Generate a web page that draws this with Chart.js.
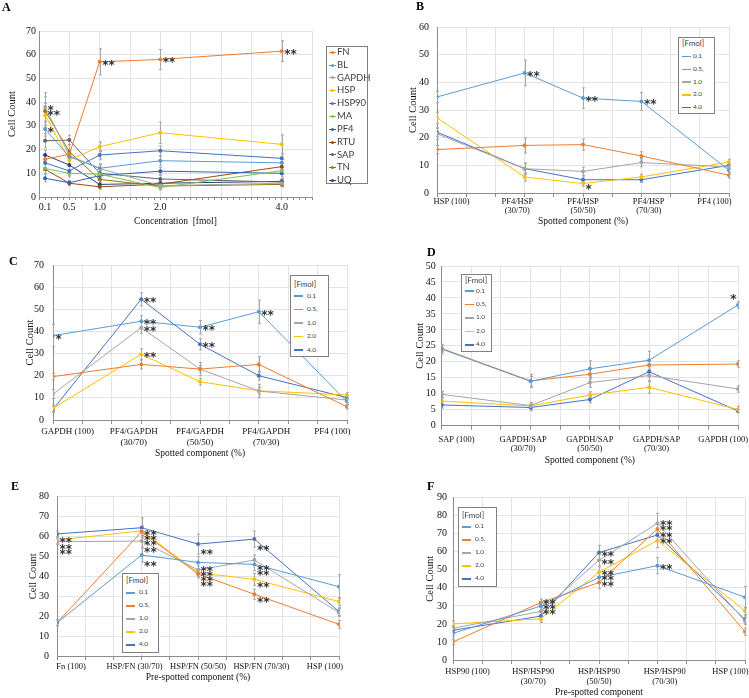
<!DOCTYPE html>
<html>
<head>
<meta charset="utf-8">
<script src="https://cdn.jsdelivr.net/npm/chart.js@4.4.1/dist/chart.umd.min.js"></script>
<style>
  html, body { margin: 0; padding: 0; background: #fff; }
  body { position: relative; width: 749px; height: 698px; overflow: hidden; }
  canvas { position: absolute; }
  .letter { position: absolute; font: bold 12px "Liberation Serif", serif; color: #000; line-height: 1; }
  .legend { position: absolute; box-sizing: border-box; border: 1px solid #808080; background: #fff;
            font-family: Lato, "Liberation Sans", sans-serif; color: #404040; }
  .legend div, .legend span { position: absolute; white-space: nowrap; line-height: 1; }
</style>
</head>
<body>
<script>
// ---------- panel A : cell count vs concentration ----------
const concA = [0.1, 0.5, 1.0, 2.0, 4.0];
const concLabelsA = ['0.1', '0.5', '1.0', '2.0', '4.0'];
const namesA = ['FN', 'BL', 'GAPDH', 'HSP', 'HSP90', 'MA', 'PF4', 'RTU', 'SAP', 'TN', 'UQ'];
const countFN    = [15.9, 18.0, 57.0, 58.0, 61.5];
const countBL    = [28.7, 17.0, 12.1, 15.3, 14.4];
const countGAPDH = [38.0, 17.5, 12.0, 4.8, 5.8];
const countHSP   = [34.5, 15.6, 21.2, 27.1, 22.2];
const countHSP90 = [14.4, 11.0, 17.7, 19.5, 16.3];
const countMA    = [12.0, 10.0, 9.6, 4.0, 11.1];
const countPF4   = [7.9, 6.0, 9.0, 10.9, 10.0];
const countRTU   = [11.7, 5.8, 4.3, 5.4, 12.8];
const countSAP   = [23.7, 24.0, 10.0, 7.6, 6.3];
const countTN    = [36.3, 19.1, 7.4, 4.6, 5.3];
const countUQ    = [17.7, 13.5, 5.3, 5.8, 6.6];
const errA = [
  [2, 2, 5.5, 4.2, 4.4], [3, 2, 1.5, 2, 1.5], [6, 2, 2, 1.5, 1.5], [5, 2, 2, 4.5, 4],
  [2, 2, 2, 2, 2], [2, 1.5, 1.5, 1, 1.5], [1.5, 1, 1.5, 1.5, 1.5], [2, 1, 1, 1, 1.5],
  [3, 2, 2, 1.5, 1.5], [6, 3, 1.5, 1, 1], [2, 2, 1, 1, 1]
];
const starsA = [[0.1, 38.1, '*'], [0.1, 35.8, '**'], [0.1, 28.6, '*'],
                [1.0, 57.0, '**'], [2.0, 58.0, '**'], [4.0, 61.5, '**']];

// ---------- panels B-F : mixtures, one line per amount ----------
const fmolNames = ['0.1', '0.5,', '1.0', '2.0', '4.0'];
const mixPct = [0, 30, 50, 70, 100];

const catsB = [['HSP (100)'], ['PF4/HSP', '(30/70)'], ['PF4/HSP', '(50/50)'], ['PF4/HSP', '(70/30)'], ['PF4 (100)']];
const bF01 = [34.7, 43.4, 34.3, 33.1, 8.2];
const bF05 = [15.7, 17.2, 17.5, 13.4, 6.4];
const bF10 = [21.4, 8.8, 7.8, 11.0, 9.4];
const bF20 = [27.2, 5.8, 3.4, 5.8, 11.2];
const bF40 = [22.0, 8.8, 4.8, 4.8, 10.0];
const errB = [[2, 4.6, 3.7, 3.2, 1.5], [1.5, 2.8, 2, 1.5, 1], [2, 2, 1.5, 1.5, 1], [2, 1.5, 1, 1, 1], [1.5, 2, 1, 1, 1]];
const starsB = [[30, 43.4, '**'], [50, 34.3, '**'], [70, 33.1, '**'], [50, 2.4, '*']];

const catsC = [['GAPDH (100)'], ['PF4/GAPDH', '(30/70)'], ['PF4/GAPDH', '(50/50)'], ['PF4/GAPDH', '(70/30)'], ['PF4 (100)']];
const cF01 = [38.1, 44.6, 41.9, 48.9, 8.3];
const cF05 = [19.6, 25.1, 23.0, 25.1, 6.0];
const cF10 = [11.7, 41.7, 23.0, 13.1, 9.0];
const cF20 = [5.3, 29.7, 17.3, 13.2, 11.3];
const cF40 = [4.8, 54.5, 34.2, 20.0, 10.1];
const errC = [[5, 2.5, 3, 5.3, 1.5], [1.5, 2, 1.5, 3.5, 1], [2, 2.5, 3, 3, 1], [1.5, 2.5, 1.5, 1.5, 1], [1.5, 3, 2.5, 2, 1]];
const starsC = [[0, 38.1, '*'], [30, 54.5, '**'], [30, 44.6, '**'], [30, 41.7, '**'], [30, 29.7, '**'],
                [50, 41.9, '**'], [50, 34.2, '**'], [70, 48.9, '**']];

const catsD = [['SAP (100)'], ['GAPDH/SAP', '(30/70)'], ['GAPDH/SAP', '(50/50)'], ['GAPDH/SAP', '(70/30)'], ['GAPDH (100)']];
const dF01 = [24.0, 13.9, 17.8, 20.5, 37.8];
const dF05 = [24.2, 14.0, 16.1, 19.0, 19.3];
const dF10 = [9.8, 6.3, 13.5, 15.7, 11.5];
const dF20 = [7.7, 6.2, 9.6, 12.0, 5.1];
const dF40 = [6.5, 5.7, 8.2, 16.9, 4.6];
const errD = [[1.5, 1.5, 2.5, 2.8, 1], [1, 2, 1.5, 1.5, 1], [1, 1, 1.5, 1.5, 1], [1, 1, 1, 1.8, 1], [1, 1, 1, 1.5, 0.5]];
const starsD = [[96.5, 40.5, '*']];

const catsE = ['Fn (100)', 'HSP/FN (30/70)', 'HSP/FN (50/50)', 'HSP/FN (70/30)', 'HSP (100)'];
const eF01 = [16.7, 50.7, 47.0, 46.0, 34.8];
const eF05 = [16.7, 62.4, 41.2, 31.0, 15.9];
const eF10 = [57.4, 57.7, 43.2, 48.2, 21.8];
const eF20 = [58.2, 62.9, 41.8, 38.5, 27.3];
const eF40 = [61.3, 64.4, 56.2, 58.7, 22.3];
const errE = [[1.5, 3.5, 3, 3, 6], [1.5, 2, 2, 2.5, 2], [1.5, 3, 2, 2.5, 2], [1.5, 2.5, 2, 3, 2], [1.5, 5, 5, 4, 2]];
const starsE = [[0, 58.7, '**'], [0, 55.3, '**'], [0, 52.5, '**'],
                [30, 62.4, '**'], [30, 59.9, '**'], [30, 57.4, '**'], [30, 53.7, '**'], [30, 46.5, '**'],
                [50, 52.7, '**'], [50, 44.0, '**'], [50, 41.5, '**'], [50, 39.2, '**'], [50, 36.8, '**'],
                [70, 54.9, '**'], [70, 44.9, '**'], [70, 42.3, '**'], [70, 36.2, '**'], [70, 28.5, '**']];

const catsF = [['HSP90 (100)'], ['HSP/HSP90', '(30/70)'], ['HSP/HSP90', '(50/50)'], ['HSP/HSP90', '(70/30)'], ['HSP (100)']];
const fF01 = [14.8, 29.9, 45.8, 52.3, 34.8];
const fF05 = [10.0, 31.8, 43.0, 72.6, 15.7];
const fF10 = [17.6, 26.9, 55.3, 75.8, 21.6];
const fF20 = [20.0, 22.8, 48.6, 66.3, 27.2];
const fF40 = [16.5, 24.3, 59.6, 69.3, 22.5];
const errF = [[1.5, 2, 3, 4.5, 6], [1.5, 2, 3.5, 3, 2], [1.5, 2, 3, 5.5, 2], [1.5, 2, 3, 4, 2], [1.5, 2, 4, 3, 2]];
const starsF = [[30, 32.7, '**'], [30, 29.9, '**'], [30, 27.1, '**'],
                [50, 59.5, '**'], [50, 55.1, '**'], [50, 48.6, '**'], [50, 45.8, '**'], [50, 42.6, '**'],
                [70, 76.7, '**'], [70, 73.5, '**'], [70, 70.1, '**'], [70, 66.7, '**'], [70, 52.3, '**']];

// ---------- styling ----------
const colorsA = ['#ED7D31', '#5B9BD5', '#A5A5A5', '#FFC000', '#4472C4', '#7BC450',
                 '#2F64B0', '#9E480E', '#636363', '#997300', '#264478'];
const fmolColors = ['#5B9BD5', '#ED7D31', '#A5A5A5', '#FFC000', '#4472C4'];
const SERIF = '"Liberation Serif", "Times New Roman", serif';
const GRID = '#e3e3e3';
const AXIS = '#8c8c8c';

function errorBars() {
  return {
    id: 'errbars',
    beforeDatasetsDraw(chart) {
      const { ctx, scales: { x, y } } = chart;
      ctx.save();
      ctx.strokeStyle = '#a6a6a6';
      ctx.lineWidth = 1;
      chart.data.datasets.forEach(ds => {
        ds.data.forEach((pt, i) => {
          const e = ds.errors[i];
          if (!e) return;
          const px = Math.round(x.getPixelForValue(pt.x)) + 0.5;
          const y1 = y.getPixelForValue(pt.y + e);
          const y2 = y.getPixelForValue(pt.y - e);
          ctx.beginPath();
          ctx.moveTo(px, y1); ctx.lineTo(px, y2);
          ctx.moveTo(px - 1.5, y1); ctx.lineTo(px + 1.5, y1);
          ctx.moveTo(px - 1.5, y2); ctx.lineTo(px + 1.5, y2);
          ctx.stroke();
        });
      });
      ctx.restore();
    }
  };
}

function stars(items) {
  return {
    id: 'stars',
    afterDatasetsDraw(chart) {
      const { ctx, scales: { x, y } } = chart;
      ctx.save();
      ctx.font = 'bold 12px "DejaVu Sans", sans-serif';
      ctx.fillStyle = '#333';
      ctx.textAlign = 'left';
      ctx.textBaseline = 'alphabetic';
      items.forEach(([xv, yv, txt]) => {
        ctx.fillText(txt, x.getPixelForValue(xv) + 2.5, y.getPixelForValue(yv) + 7);
      });
      ctx.restore();
    }
  };
}

function makeDatasets(xs, series, names, colors, errs) {
  return series.map((vals, k) => ({
    label: names[k],
    data: vals.map((v, i) => ({ x: xs[i], y: v })),
    borderColor: colors[k],
    backgroundColor: colors[k],
    borderWidth: 1,
    pointRadius: 2,
    pointBorderWidth: 0,
    tension: 0,
    errors: errs[k]
  }));
}

function yScale(p, yW) {
  return {
    min: 0, max: p.yMax,
    ticks: { stepSize: p.yStep, color: '#111', padding: p.yPad, font: { family: SERIF, size: 10 } },
    grid: { color: GRID, drawTicks: false },
    border: { color: AXIS },
    title: { display: true, text: 'Cell Count', color: '#111', padding: 0,
             font: { family: SERIF, size: 10.5, lineHeight: 1.2 } },
    afterFit: s => { s.width = yW; }
  };
}

function addLetter(ch, x, y) {
  const d = document.createElement('div');
  d.className = 'letter';
  d.textContent = ch;
  d.style.left = x + 'px';
  d.style.top = y + 'px';
  document.body.appendChild(d);
}

function addLegend(lg, names, colors, withDot) {
  const el = document.createElement('div');
  el.className = 'legend';
  el.style.cssText += `left:${lg.x}px;top:${lg.y}px;width:${lg.w}px;height:${lg.h}px;`;
  if (lg.title) {
    const t = document.createElement('div');
    t.textContent = lg.title;
    t.style.cssText = `left:${lg.lineX}px;top:${lg.titleY - lg.titleSize * 0.55}px;font-size:${lg.titleSize}px;`;
    el.appendChild(t);
  }
  names.forEach((n, i) => {
    const cy = lg.firstY + i * lg.step;
    const line = document.createElement('span');
    line.style.cssText = `left:${lg.lineX}px;top:${cy - lg.lineW / 2}px;width:${lg.lineLen}px;height:${lg.lineW}px;background:${colors[i]};`;
    el.appendChild(line);
    if (withDot) {
      const dot = document.createElement('span');
      dot.style.cssText = `left:${lg.lineX + lg.lineLen / 2 - 1.5}px;top:${cy - 1.5}px;width:3px;height:3px;border-radius:50%;background:${colors[i]};`;
      el.appendChild(dot);
    }
    const t = document.createElement('span');
    t.textContent = n;
    t.style.cssText = `left:${lg.textX}px;top:${cy - lg.size * 0.55}px;font-size:${lg.size}px;`;
    el.appendChild(t);
  });
  document.body.appendChild(el);
}

function makeCanvas(left, top, w, h) {
  const cv = document.createElement('canvas');
  cv.width = w; cv.height = h;
  cv.style.left = left + 'px';
  cv.style.top = top + 'px';
  cv.style.width = w + 'px';
  cv.style.height = h + 'px';
  document.body.appendChild(cv);
  return cv;
}

// ---------- panel A ----------
(function () {
  const cl = 0, ct = 0, cw = 375;
  const plot = { l: 39, t: 31, r: 312, b: 197 };
  const xTitleY = 221;
  const ch = Math.round(xTitleY + 5.7 - ct);
  const padL = 12 - cl - 6.3;
  const cv = makeCanvas(cl, ct, cw, ch);
  const series = [countFN, countBL, countGAPDH, countHSP, countHSP90, countMA, countPF4, countRTU, countSAP, countTN, countUQ];
  new Chart(cv, {
    type: 'line',
    data: { datasets: makeDatasets(concA, series, namesA, colorsA, errA) },
    options: {
      responsive: false, animation: false, devicePixelRatio: 1,
      layout: { padding: { left: padL, top: plot.t - ct, right: cl + cw - plot.r, bottom: 0 } },
      plugins: { legend: { display: false }, tooltip: { enabled: false } },
      scales: {
        x: {
          type: 'linear', min: 0, max: 4.5,
          afterBuildTicks: s => {
            const t = [];
            for (let i = 0; i <= 45; i++) t.push({ value: i / 10 });
            s.ticks = t;
          },
          ticks: {
            autoSkip: false, maxRotation: 0, padding: 1, color: '#111',
            font: { family: SERIF, size: 10 },
            callback: v => {
              const k = concA.findIndex(c => Math.abs(c - v) < 1e-6);
              return k >= 0 ? concLabelsA[k] : '';
            }
          },
          grid: {
            color: c => (Math.round(c.tick.value * 10) % 5 === 0 ? GRID : 'rgba(0,0,0,0)'),
            tickColor: AXIS, tickLength: 3
          },
          border: { color: AXIS },
          title: { display: true, text: 'Concentration  [fmol]', color: '#111', padding: 0,
                   font: { family: SERIF, size: 9.5, lineHeight: 1.2 } },
          afterFit: s => { s.height = ct + ch - plot.b; s.paddingLeft = 0; s.paddingRight = 0; }
        },
        y: yScale({ yMax: 70, yStep: 10, yPad: 3 }, plot.l - cl - padL)
      }
    },
    plugins: [errorBars(), stars(starsA)]
  });
  addLetter('A', 2, 1);
  addLegend({ x: 326, y: 46, w: 42, h: 138, firstY: 5.2, step: 12.83, lineX: 2, lineLen: 7,
              lineW: 1, textX: 10, size: 9.5 }, namesA, colorsA, true);
})();

// ---------- panels B-F ----------
function mixPanel(p) {
  const [cl, ct, cw] = p.box;
  const ch = Math.round(p.xTitleY + 5.7 - ct);
  const padL = p.yTitleX - cl - 6.3;
  const cv = makeCanvas(cl, ct, cw, ch);
  const gridH = 4;
  const labelPos = [5, 27.5, 50, 72.5, 95];
  new Chart(cv, {
    type: 'line',
    data: { datasets: makeDatasets(mixPct, p.series, fmolNames, fmolColors, p.errs) },
    options: {
      responsive: false, animation: false, devicePixelRatio: 1,
      layout: { padding: { left: padL, top: p.plot.t - ct, right: cl + cw - p.plot.r, bottom: 0 } },
      plugins: { legend: { display: false }, tooltip: { enabled: false } },
      scales: {
        x: {
          type: 'linear', min: 0, max: 100, weight: 0,
          ticks: { display: false, stepSize: 10 },
          grid: { color: GRID, tickColor: AXIS, tickLength: gridH },
          border: { color: AXIS },
          afterFit: s => { s.height = gridH; s.paddingLeft = 0; s.paddingRight = 0; }
        },
        xl: {
          type: 'linear', position: 'bottom', min: 0, max: 100, weight: 1,
          afterBuildTicks: s => { s.ticks = labelPos.map(v => ({ value: v })); },
          ticks: {
            autoSkip: false, maxRotation: 0, color: '#111',
            padding: p.labelY - (p.plot.b + gridH) - p.labelSize * 0.6,
            font: { family: SERIF, size: p.labelSize, lineHeight: p.labelLH },
            callback: (v, i) => p.cats[i]
          },
          grid: { display: false, drawTicks: false },
          border: { display: false },
          title: { display: true, text: p.xTitle, color: '#111', padding: 0,
                   font: { family: SERIF, size: 9.5, lineHeight: 1.2 } },
          afterFit: s => { s.height = ct + ch - p.plot.b - gridH; s.paddingLeft = 0; s.paddingRight = 0; }
        },
        y: yScale(p, p.plot.l - cl - padL)
      }
    },
    plugins: [errorBars(), stars(p.stars)]
  });
  addLetter(p.letter, p.letterXY[0], p.letterXY[1]);
  addLegend(Object.assign({ title: '[Fmol]', titleSize: 8, lineX: 3, lineLen: 9, lineW: 1.5, size: 6.5 }, p.legend),
            fmolNames, fmolColors, false);
}

mixPanel({
  letter: 'B', letterXY: [416, 0], box: [375, 0, 374],
  plot: { l: 437, t: 27, r: 729, b: 193 }, yTitleX: 413, yMax: 60, yStep: 10, yPad: 8,
  cats: catsB, labelY: 201.7, labelSize: 8.5, labelLH: 1.1, xTitle: 'Spotted component (%)', xTitleY: 221.7,
  series: [bF01, bF05, bF10, bF20, bF40], errs: errB, stars: starsB,
  legend: { x: 678, y: 37, w: 37, h: 77, titleY: 5.5, firstY: 18.5, step: 12.8, textX: 14 }
});
mixPanel({
  letter: 'C', letterXY: [9, 255], box: [0, 250, 375],
  plot: { l: 53, t: 265, r: 347, b: 420 }, yTitleX: 30, yMax: 70, yStep: 10, yPad: 9,
  cats: catsC, labelY: 431.7, labelSize: 9, labelLH: 1.2, xTitle: 'Spotted component (%)', xTitleY: 453.3,
  series: [cF01, cF05, cF10, cF20, cF40], errs: errC, stars: starsC,
  legend: { x: 290, y: 275, w: 39, h: 82, titleY: 8.5, firstY: 20.2, step: 13.5, textX: 16 }
});
mixPanel({
  letter: 'D', letterXY: [427, 246], box: [375, 250, 374],
  plot: { l: 441.7, t: 266, r: 738, b: 425.7 }, yTitleX: 420, yMax: 50, yStep: 5, yPad: 6,
  cats: catsD, labelY: 440, labelSize: 8.5, labelLH: 1.1, xTitle: 'Spotted component (%)', xTitleY: 460.7,
  series: [dF01, dF05, dF10, dF20, dF40], errs: errD, stars: starsD,
  legend: { x: 461, y: 274, w: 31, h: 78, titleY: 5, firstY: 16.2, step: 13.4, textX: 14 }
});
mixPanel({
  letter: 'E', letterXY: [11, 480], box: [0, 480, 375],
  plot: { l: 57, t: 496.7, r: 339, b: 656 }, yTitleX: 33, yMax: 80, yStep: 10, yPad: 8,
  cats: catsE, labelY: 667.3, labelSize: 8.5, labelLH: 1.1, xTitle: 'Pre-spotted component (%)', xTitleY: 677.3,
  series: [eF01, eF05, eF10, eF20, eF40], errs: errE, stars: starsE,
  legend: { x: 122, y: 573, w: 37, h: 80, titleY: 6.2, firstY: 19, step: 13, textX: 16 }
});
mixPanel({
  letter: 'F', letterXY: [427, 480], box: [375, 480, 374],
  plot: { l: 453, t: 497.7, r: 745, b: 660 }, yTitleX: 430, yMax: 90, yStep: 10, yPad: 6,
  cats: catsF, labelY: 672, labelSize: 8.5, labelLH: 1.2, xTitle: 'Pre-spotted component', xTitleY: 692,
  series: [fF01, fF05, fF10, fF20, fF40], errs: errF, stars: starsF,
  legend: { x: 458, y: 507, w: 39, h: 80, titleY: 7.2, firstY: 19, step: 13, textX: 16 }
});
</script>
</body>
</html>
